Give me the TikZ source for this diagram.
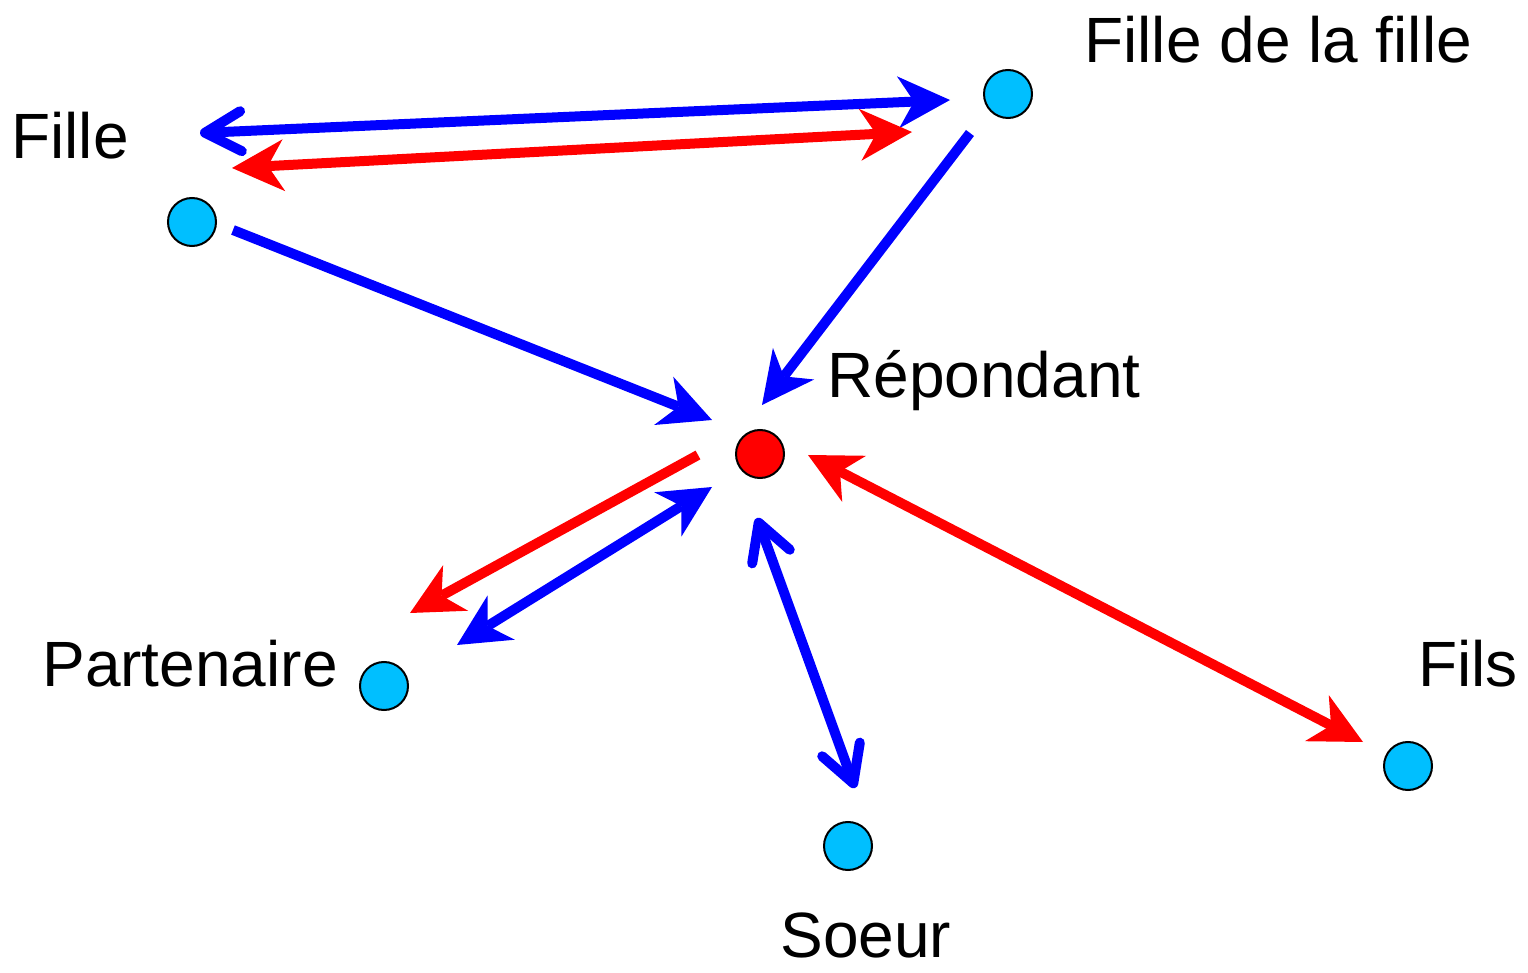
\documentclass[tikz,border=0pt]{standalone}
\usepackage{fontspec}
\setmainfont{Liberation Sans}
\usetikzlibrary{arrows.meta}
\definecolor{dot}{HTML}{00BFFF}
\definecolor{ablue}{HTML}{0000FF}
\definecolor{ared}{HTML}{FF0000}
\begin{document}
\begin{tikzpicture}[x=0.5pt,y=-0.5pt,
  person/.style={circle,draw=black,line width=1pt,fill=dot,minimum size=24pt,inner sep=0pt},
  me/.style={person,fill=ared},
  lbl/.style={inner sep=0pt,anchor=base west,font=\fontsize{32}{32}\selectfont},
  S/.tip={Stealth[length=26pt,width=26pt,inset=8pt,line width=0pt]},
  B/.tip={Straight Barb[length=18pt,width=20pt,round]},
  link/.style={line width=5pt},
  bl/.style={link,draw=ablue,fill=ablue},
  rd/.style={link,draw=ared,fill=ared}]
\useasboundingbox (0,0) rectangle (1528,973);
% nodes
\node[person] (fille) at (192,222) {};
\node[person] (ff) at (1008,94) {};
\node[me] (rep) at (760,454) {};
\node[person] (part) at (384,686) {};
\node[person] (soeur) at (848,846) {};
\node[person] (fils) at (1408,766) {};
% labels
\node[lbl] (tfille) at (11,159) {Fille};
\node[lbl] (tff) at (1084,63) {Fille de la fille};
\node[lbl] (trep) at (827,398) {Répondant};
\node[lbl] (tpart) at (42,686) {Partenaire};
\node[lbl] (tsoeur) at (780,957) {Soeur};
\node[lbl] (tfils) at (1418,686) {Fils};
% arrow end points
\coordinate (a1) at (200,133); \coordinate (a2) at (950,100);
\coordinate (b1) at (232,168); \coordinate (b2) at (912,132);
\coordinate (c1) at (233,230); \coordinate (c2) at (712,420);
\coordinate (d1) at (970,133); \coordinate (d2) at (762,405);
\coordinate (e1) at (698,455); \coordinate (e2) at (410,613);
\coordinate (f1) at (457,645); \coordinate (f2) at (712,487);
\coordinate (g1) at (757,518); \coordinate (g2) at (855,788);
\coordinate (h1) at (808,455); \coordinate (h2) at (1363,742);
% arrows
\draw[bl,{B}-{S}] (a1) -- (a2);
\draw[rd,{S}-{S}] (b1) -- (b2);
\draw[bl,-{S}] (c1) -- (c2);
\draw[bl,-{S}] (d1) -- (d2);
\draw[rd,-{S}] (e1) -- (e2);
\draw[bl,{S}-{S}] (f1) -- (f2);
\draw[bl,{B}-{B}] (g1) -- (g2);
\draw[rd,{S}-{S}] (h1) -- (h2);
\end{tikzpicture}
\end{document}
